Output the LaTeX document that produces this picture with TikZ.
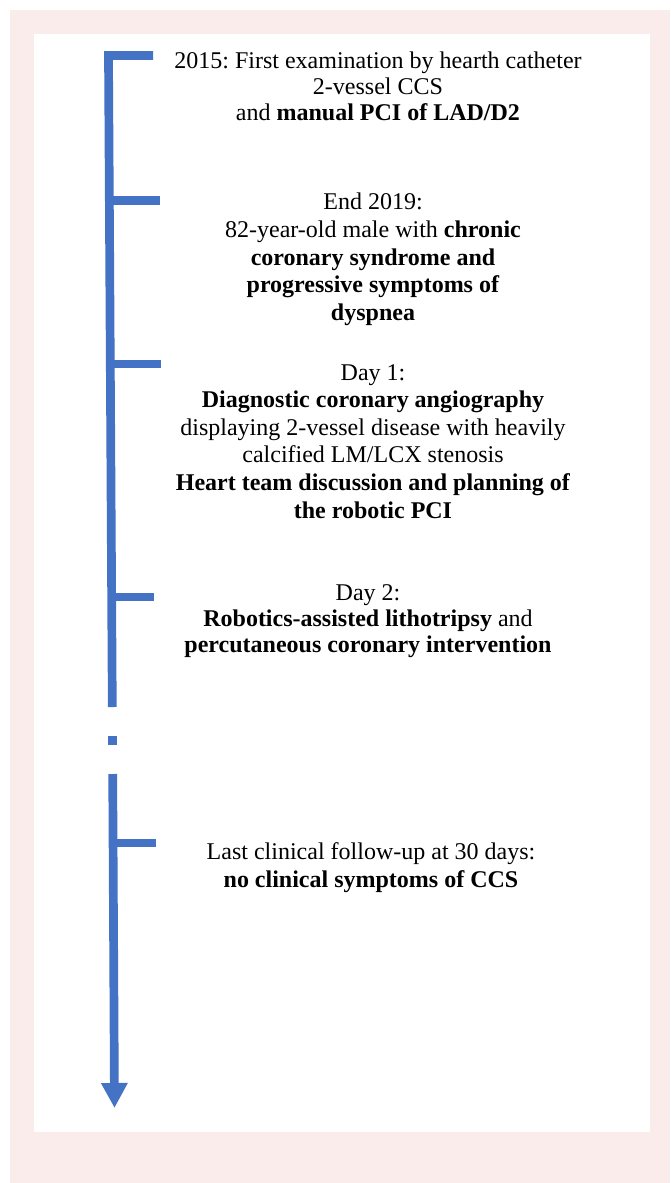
\documentclass[tikz,border=0pt]{standalone}
\usepackage{fontspec}
\setmainfont{Liberation Serif}
\frenchspacing
\usetikzlibrary{arrows.meta}
\definecolor{lineblue}{RGB}{68,114,196}
\definecolor{framepink}{RGB}{251,236,236}

\begin{document}
\begin{tikzpicture}[x=1pt,y=-1pt,
  event/.style={anchor=north,inner sep=0pt,align=center,font=\fontsize{24}{27.6}\selectfont},
  bar/.style={draw=lineblue,line width=8.7pt}]
\useasboundingbox (0,0) rectangle (670,1183);
\fill[framepink] (10,10) rectangle (670,1183);
\fill[white] (34,34) rectangle (650,1132);
% points on the time axis
\coordinate (A2015) at (108.5,55.5);
\coordinate (A2019) at (109.3,200.5);
\coordinate (Aday1) at (110.3,364);
\coordinate (Aday2) at (111.7,597);
\coordinate (Afu) at (113.1,843);
\coordinate (G1) at (112.3,707);
\coordinate (G2) at (112.5,736);
\coordinate (G3) at (112.5,745);
\coordinate (G4) at (112.7,774);
\coordinate (Tip) at (114.5,1108);
% tick ends
\coordinate (T2015) at (153,55.5);
\coordinate (T2019) at (160,200.5);
\coordinate (Tday1) at (160.5,364);
\coordinate (Tday2) at (154,597);
\coordinate (Tfu) at (156,843);
% events
\node[event,font=\fontsize{24}{26.2}\selectfont] (E2015) at (378,51.5) {2015: First examination by hearth catheter\\2-vessel CCS\\and \textbf{manual PCI of LAD/D2}};
\node[event] (E2019) at (373,193) {End 2019:\\82-year-old male with \textbf{chronic}\\\textbf{coronary syndrome and}\\\textbf{progressive symptoms of}\\\textbf{dyspnea}};
\node[event] (Eday1) at (373,364) {Day 1:\\\textbf{Diagnostic coronary angiography}\\displaying 2-vessel disease with heavily\\calcified LM/LCX stenosis\\\textbf{Heart team discussion and planning of}\\\textbf{the robotic PCI}};
\node[event,font=\fontsize{24}{26.4}\selectfont] (Eday2) at (368,584) {Day 2:\\\textbf{Robotics-assisted lithotripsy} and\\\textbf{percutaneous coronary intervention}};
\node[event] (Efu) at (371,842.6) {Last clinical follow-up at 30 days:\\\textbf{no clinical symptoms of CCS}};
% axis
\draw[bar,line join=miter] (T2015) -- (A2015) -- (G1);
\draw[bar] (G2) -- (G3);
\draw[bar,-{Triangle[length=25pt,width=25pt]}] (G4) -- (Tip);
\draw[bar] (A2019) -- (T2019);
\draw[bar] (Aday1) -- (Tday1);
\draw[bar] (Aday2) -- (Tday2);
\draw[bar] (Afu) -- (Tfu);
\end{tikzpicture}
\end{document}
